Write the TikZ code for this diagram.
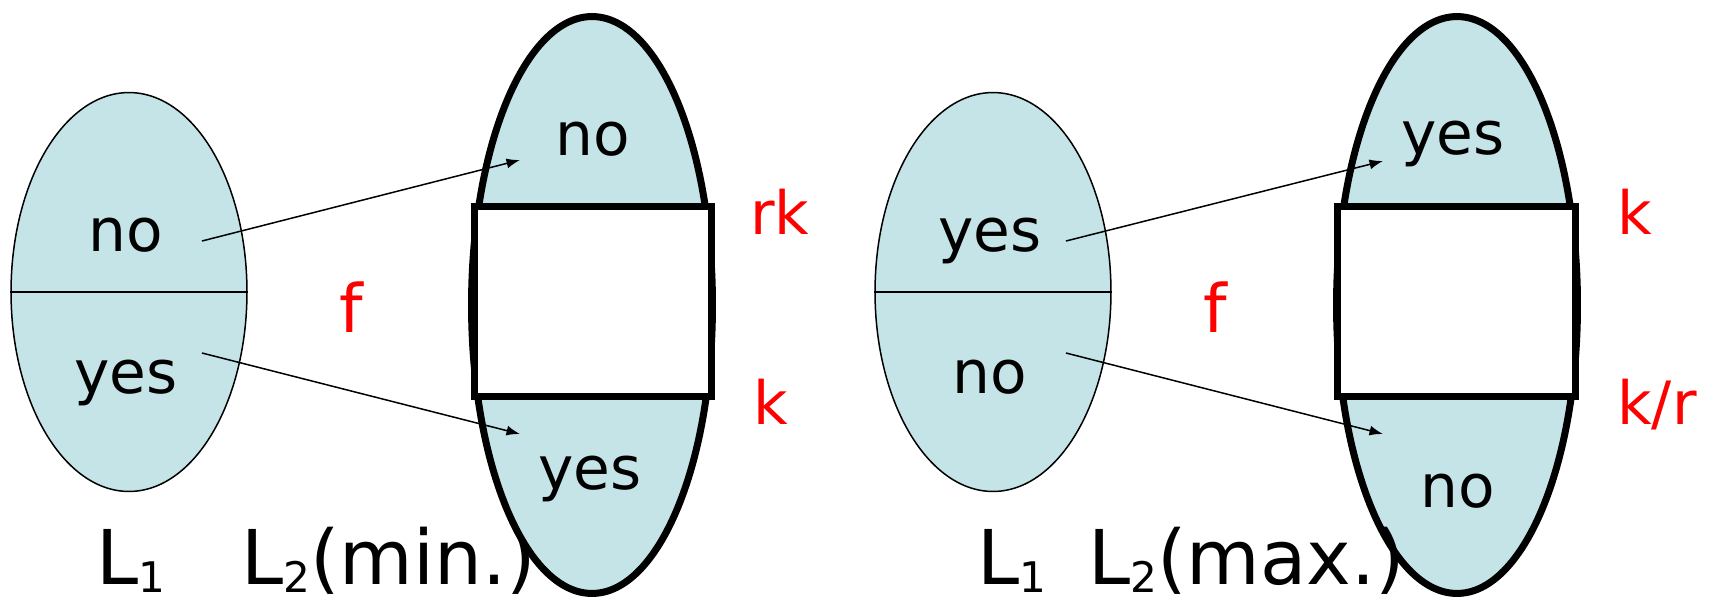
\documentclass[tikz,border=0pt]{standalone}
\usepackage{fontspec}
\setmainfont{DejaVu Sans}
\usetikzlibrary{positioning, arrows.meta, shapes.geometric}

\definecolor{setblue}{RGB}{196,228,232}
\newcommand{\lsub}[1]{\raisebox{-5pt}{\fontsize{24}{24}\selectfont #1}}

\begin{document}
\begin{tikzpicture}[
    x=0.02cm, y=-0.02cm,
    set_box/.style = {draw, ellipse, fill=setblue, line width=0.03cm, minimum width=4.72cm, minimum height=7.98cm, inner sep=0pt},
    big_set/.style = {set_box, line width=0.14cm, minimum width=4.82cm, minimum height=11.54cm},
    gap_box/.style = {draw, rectangle, fill=white, line width=0.14cm, minimum width=4.76cm, minimum height=3.82cm, inner sep=0pt},
    ans/.style = {font=\fontsize{34}{34}\selectfont, anchor=base, inner sep=0pt},
    red_lbl/.style = {text=red, font=\fontsize{34}{34}\selectfont, anchor=base west, inner sep=0pt},
    f_lbl/.style = {text=red, font=\fontsize{38}{38}\selectfont, anchor=base, inner sep=0pt},
    lang_lbl/.style = {font=\fontsize{43}{43}\selectfont, anchor=base west, inner sep=0pt},
    map_arrow/.style = {-{Latex[length=0.27cm, width=0.2cm]}, line width=0.03cm}
]
\useasboundingbox (0,0) rectangle (1713,602);

% --- Left: minimisation ---
\node[set_box] (l1a) at (129, 292) {};
\draw[line width=0.03cm] (l1a.west) -- (l1a.east);
\node[ans] (l1a_no) at (126, 251) {no};
\node[ans] (l1a_yes) at (126, 393) {yes};

\node[big_set] (l2a) at (592, 305) {};
\node[gap_box] (gapa) at (593, 301.5) {};
\node[ans] (l2a_no) at (593, 155) {no};
\node[ans] (l2a_yes) at (590, 489) {yes};

\node[red_lbl] (rka) at (750, 234) {rk};
\node[red_lbl] (ka) at (753, 424) {k};
\node[f_lbl] (fa) at (351, 332) {f};

\coordinate (a_from1) at (202, 241);
\coordinate (a_to1) at (520, 160);
\coordinate (a_from2) at (202, 353);
\coordinate (a_to2) at (520, 434);
\draw[map_arrow] (a_from1) -- (a_to1);
\draw[map_arrow] (a_from2) -- (a_to2);

\node[lang_lbl] (lab_l1a) at (96, 584) {L\lsub{1}};
\node[lang_lbl] (lab_l2a) at (241, 584) {L\lsub{2}(min.)};

% --- Right: maximisation ---
\node[set_box] (l1b) at (993, 292) {};
\draw[line width=0.03cm] (l1b.west) -- (l1b.east);
\node[ans] (l1b_yes) at (990, 251) {yes};
\node[ans] (l1b_no) at (990, 393) {no};

\node[big_set] (l2b) at (1457, 305) {};
\node[gap_box] (gapb) at (1456.5, 301.5) {};
\node[ans] (l2b_yes) at (1453, 154) {yes};
\node[ans] (l2b_no) at (1458, 507) {no};

\node[red_lbl] (kb) at (1617, 234) {k};
\node[red_lbl] (krb) at (1617, 424) {k/r};
\node[f_lbl] (fb) at (1215, 332) {f};

\coordinate (b_from1) at (1066, 241);
\coordinate (b_to1) at (1383, 161);
\coordinate (b_from2) at (1066, 353);
\coordinate (b_to2) at (1383, 434);
\draw[map_arrow] (b_from1) -- (b_to1);
\draw[map_arrow] (b_from2) -- (b_to2);

\node[lang_lbl] (lab_l1b) at (977, 584) {L\lsub{1}};
\node[lang_lbl] (lab_l2b) at (1088, 584) {L\lsub{2}(max.)};

\end{tikzpicture}
\end{document}
